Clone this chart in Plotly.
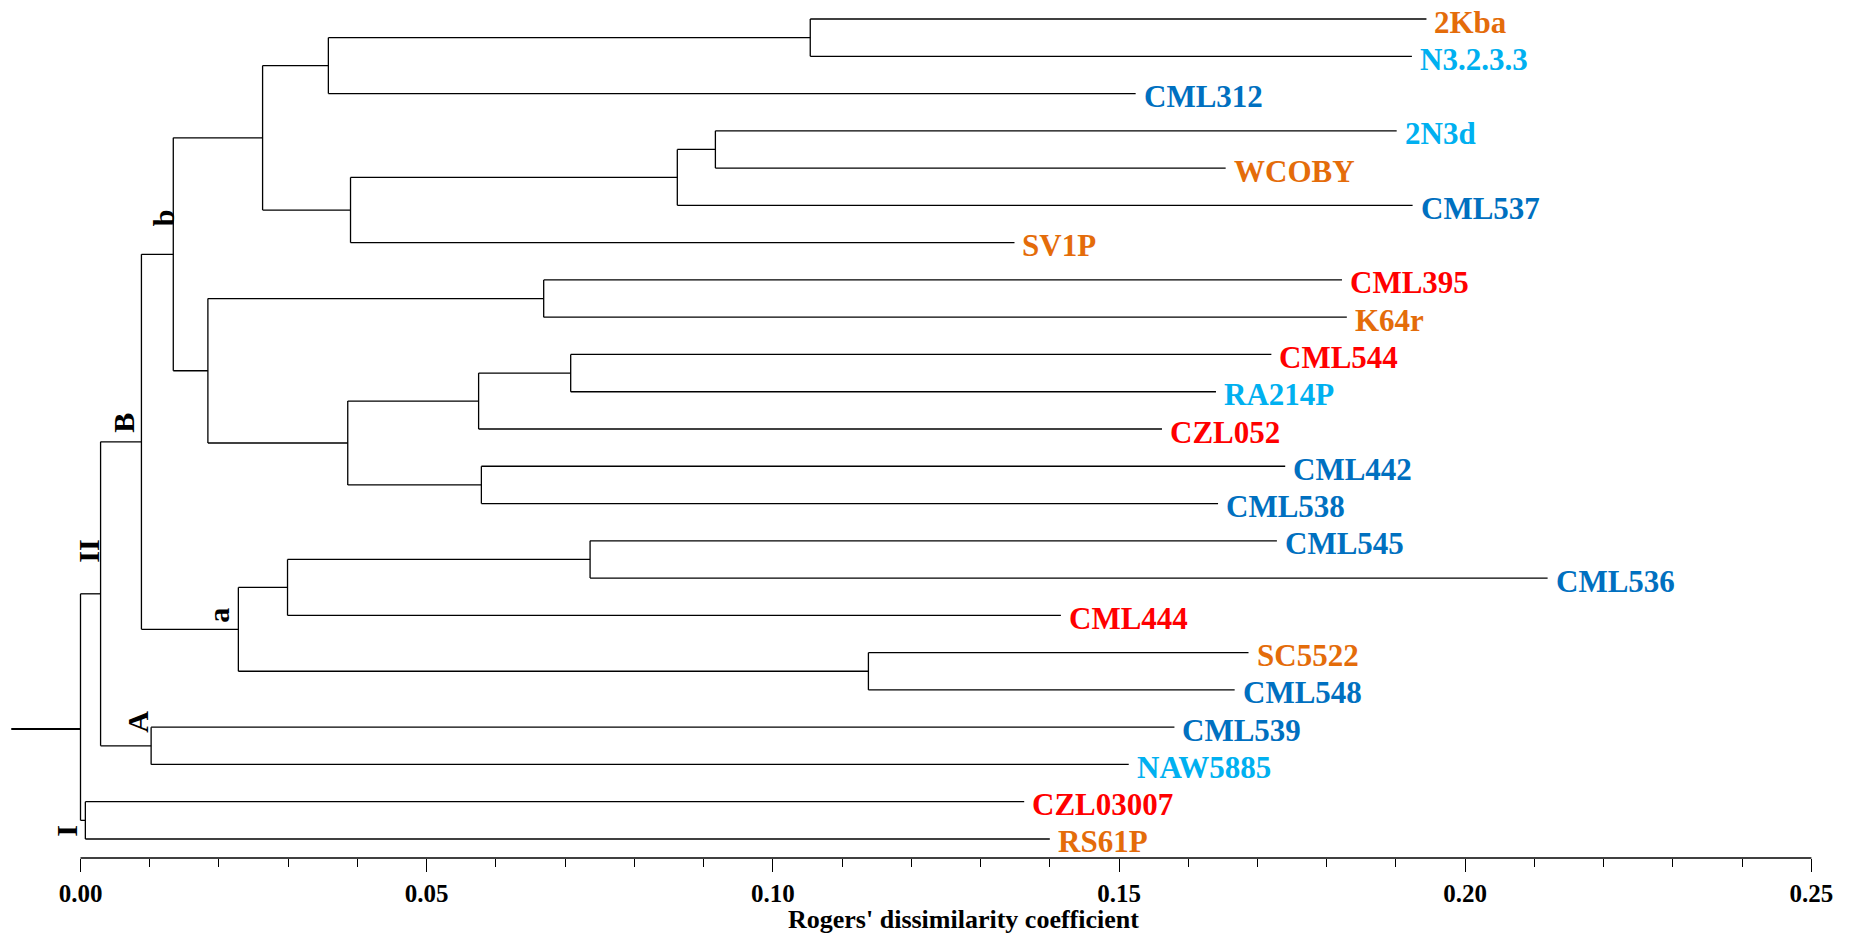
import plotly.graph_objects as go

# ---------------- data ----------------
# leaves, top to bottom
LEAVES = ["2Kba", "N3.2.3.3", "CML312", "2N3d", "WCOBY", "CML537", "SV1P",
          "CML395", "K64r", "CML544", "RA214P", "CZL052", "CML442", "CML538",
          "CML545", "CML536", "CML444", "SC5522", "CML548", "CML539",
          "NAW5885", "CZL03007", "RS61P"]
# cumulative distance at the tip of each leaf branch
LEAF_DIST = [0.1944, 0.1923, 0.1524, 0.1901, 0.1654, 0.1924, 0.1349,
             0.1822, 0.1829, 0.1720, 0.1640, 0.1562, 0.1740, 0.1643,
             0.1728, 0.2119, 0.1416, 0.1687, 0.1667, 0.1580,
             0.1514, 0.1363, 0.1400]
# germplasm group of each leaf
LEAF_GROUP = ["g1", "g2", "g3", "g2", "g1", "g3", "g1",
              "g4", "g1", "g4", "g2", "g4", "g3", "g3",
              "g3", "g3", "g4", "g1", "g3", "g3",
              "g2", "g4", "g1"]
# internal nodes: (name, child 1, child 2, node distance)
NODES = [
    ("n1", "2Kba", "N3.2.3.3", 0.1054),
    ("n2", "n1", "CML312", 0.0358),
    ("n3", "2N3d", "WCOBY", 0.0917),
    ("n4", "n3", "CML537", 0.0862),
    ("n5", "n4", "SV1P", 0.0390),
    ("n6", "n2", "n5", 0.0263),
    ("n7", "CML395", "K64r", 0.0669),
    ("n8", "CML544", "RA214P", 0.0708),
    ("n9", "n8", "CZL052", 0.0575),
    ("n10", "CML442", "CML538", 0.0579),
    ("n11", "n9", "n10", 0.0386),
    ("n12", "n7", "n11", 0.0184),
    ("b", "n6", "n12", 0.0134),
    ("n13", "CML545", "CML536", 0.0736),
    ("n14", "n13", "CML444", 0.0299),
    ("n15", "SC5522", "CML548", 0.1138),
    ("a", "n14", "n15", 0.0228),
    ("B", "b", "a", 0.0088),
    ("A", "CML539", "NAW5885", 0.0102),
    ("II", "B", "A", 0.0029),
    ("I", "CZL03007", "RS61P", 0.0007),
    ("root", "II", "I", 0.0),
]
ROOT_STUB = (-0.0100, 2.95)   # root stub start distance, row position
# cluster labels: (text, distance, row position)
CLUSTER_LABELS = [("b", 0.0119, 16.68), ("B", 0.0062, 11.18), ("II", 0.0011, 7.71),
                  ("a", 0.0199, 6.00), ("A", 0.0082, 3.15), ("I", -0.0020, 0.21)]
TICK_VALS = [0.00, 0.05, 0.10, 0.15, 0.20, 0.25]
TICK_TEXT = ["0.00", "0.05", "0.10", "0.15", "0.20", "0.25"]
MINOR_VALS = [0.01, 0.02, 0.03, 0.04, 0.06, 0.07, 0.08, 0.09, 0.11, 0.12, 0.13,
              0.14, 0.16, 0.17, 0.18, 0.19, 0.21, 0.22, 0.23, 0.24]
X_TITLE = "Rogers' dissimilarity coefficient"

# ---------------- style ----------------
GROUP_COLORS = {"g1": "#E46C0A", "g2": "#00B0F0", "g3": "#0070C0", "g4": "#FF0000"}
FONT = "Liberation Serif, Times New Roman, serif"

# ---------------- build tree geometry ----------------
n = len(LEAVES)
pos_y = {name: n - 1 - i for i, name in enumerate(LEAVES)}
pos_x = {name: d for name, d in zip(LEAVES, LEAF_DIST)}
xs, ys = [], []
for name, c1, c2, d in NODES:
    pos_y[name] = (pos_y[c1] + pos_y[c2]) / 2
    pos_x[name] = d
    # vertical connector
    xs += [d, d, None]
    ys += [pos_y[c1], pos_y[c2], None]
    # horizontal branches
    for c in (c1, c2):
        xs += [d, pos_x[c], None]
        ys += [pos_y[c], pos_y[c], None]

fig = go.Figure()
fig.add_trace(go.Scatter(x=xs, y=ys, mode="lines",
                         line=dict(color="black", width=1.3),
                         hoverinfo="skip", showlegend=False))
fig.add_trace(go.Scatter(x=[ROOT_STUB[0], pos_x["root"]], y=[ROOT_STUB[1], ROOT_STUB[1]],
                         mode="lines", line=dict(color="black", width=2),
                         hoverinfo="skip", showlegend=False))

annotations = []
for name, d, g in zip(LEAVES, LEAF_DIST, LEAF_GROUP):
    annotations.append(dict(x=d, y=pos_y[name], text=name, showarrow=False,
                            xanchor="left", yanchor="middle", xshift=6, yshift=-3,
                            font=dict(family=FONT, size=31, color=GROUP_COLORS[g],
                                      weight="bold")))
for txt, d, yy in CLUSTER_LABELS:
    annotations.append(dict(x=d, y=yy, text=txt, showarrow=False, textangle=-90,
                            xanchor="center", yanchor="middle",
                            font=dict(family=FONT, size=30, color="black",
                                      weight="bold")))
annotations.append(dict(x=0.1275, y=-0.0688, xref="x", yref="paper", text=X_TITLE,
                        showarrow=False, xanchor="center", yanchor="middle",
                        borderpad=0, yshift=-2,
                        font=dict(family=FONT, size=26, color="black", weight="bold")))

x0_px = 80.5
px_per_unit = (1811.4 - 80.5) / 0.25
fig.update_layout(
    width=1860, height=933,
    margin=dict(l=0, r=0, t=0, b=75),
    paper_bgcolor="white", plot_bgcolor="white",
    annotations=annotations,
    shapes=[dict(type="line", xref="x", yref="paper", x0=TICK_VALS[0], x1=TICK_VALS[-1],
                 y0=0, y1=0, line=dict(color="black", width=1.4))],
    xaxis=dict(range=[-x0_px / px_per_unit, (1860 - x0_px) / px_per_unit],
               showgrid=False, zeroline=False, showline=False,
               tickmode="array", tickvals=TICK_VALS, ticktext=TICK_TEXT,
               ticks="outside", ticklen=13, tickwidth=1.3, tickcolor="black",
               tickfont=dict(family=FONT, size=25, color="black", weight="bold"),
               minor=dict(tickmode="array", tickvals=MINOR_VALS, ticks="outside",
                          ticklen=8, tickwidth=1.2, tickcolor="black", showgrid=False)),
    yaxis=dict(range=[-0.51, n - 1 + 0.51], visible=False, showgrid=False,
               zeroline=False),
)

fig.write_html("out.html")
